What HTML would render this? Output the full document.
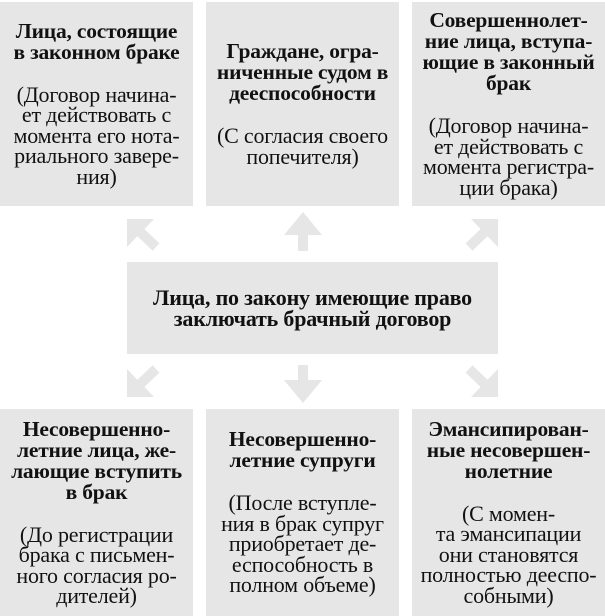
<!DOCTYPE html>
<html><head><meta charset="utf-8"><style>
body{margin:0;width:605px;height:616px;background:#fff;position:relative;overflow:hidden;font-family:"Liberation Serif",serif;color:#111}
.b{position:absolute;background:#e6e6e6;display:flex;flex-direction:column;justify-content:center;align-items:center;text-align:center;white-space:nowrap}
.t{font-weight:bold;font-size:21.5px;line-height:21px;letter-spacing:-0.2px}
.r{font-size:22px;line-height:20.5px;margin-top:22px;letter-spacing:-0.2px}
svg{position:absolute;left:0;top:0}
</style></head><body>
<div class="b" style="left:0;top:2px;width:193px;height:204px"><div class="t">Лица, состоящие<br>в законном браке</div><div class="r">(Договор начина-<br>ет действовать с<br>момента его нота-<br>риального завере-<br>ния)</div></div>
<div class="b" style="left:206px;top:2px;width:193px;height:204px"><div class="t">Граждане, огра-<br>ниченные судом в<br>дееспособности</div><div class="r">(С согласия своего<br>попечителя)</div></div>
<div class="b" style="left:412px;top:2px;width:193px;height:204px"><div class="t">Совершеннолет-<br>ние лица, вступа-<br>ющие в законный<br>брак</div><div class="r">(Договор начина-<br>ет действовать с<br>момента регистра-<br>ции брака)</div></div>
<div class="b" style="left:127px;top:262px;width:371px;height:92px"><div class="t" style="font-size:22px;line-height:21px">Лица, по закону имеющие право<br>заключать брачный договор</div></div>
<div class="b" style="left:0;top:409px;width:193px;height:207px"><div class="t">Несовершенно-<br>летние лица, же-<br>лающие вступить<br>в брак</div><div class="r">(До регистрации<br>брака с письмен-<br>ного согласия ро-<br>дителей)</div></div>
<div class="b" style="left:206px;top:409px;width:193px;height:207px"><div class="t">Несовершенно-<br>летние супруги</div><div class="r">(После вступле-<br>ния в брак супруг<br>приобретает де-<br>еспособность в<br>полном объеме)</div></div>
<div class="b" style="left:412px;top:409px;width:193px;height:207px"><div class="t">Эмансипирован-<br>ные несовершен-<br>нолетние</div><div class="r">(С момен-<br>та эмансипации<br>они становятся<br>полностью дееспо-<br>собными)</div></div>
<svg width="605" height="616" fill="#e6e6e6" stroke="none">
<polygon points="303,212 322,235 284,235"/><rect x="298" y="234" width="10" height="17"/>
<polygon points="303,403 322,380 284,380"/><rect x="298" y="365" width="10" height="16"/>
<polygon points="127,219 154,219 127,247"/><line x1="136" y1="228" x2="156" y2="247" stroke="#e6e6e6" stroke-width="10"/>
<polygon points="498,219 471,219 498,247"/><line x1="489" y1="228" x2="469" y2="247" stroke="#e6e6e6" stroke-width="10"/>
<polygon points="127,397 154,397 127,369"/><line x1="136" y1="388" x2="156" y2="369" stroke="#e6e6e6" stroke-width="10"/>
<polygon points="498,397 471,397 498,369"/><line x1="489" y1="388" x2="469" y2="369" stroke="#e6e6e6" stroke-width="10"/>
</svg>
</body></html>
